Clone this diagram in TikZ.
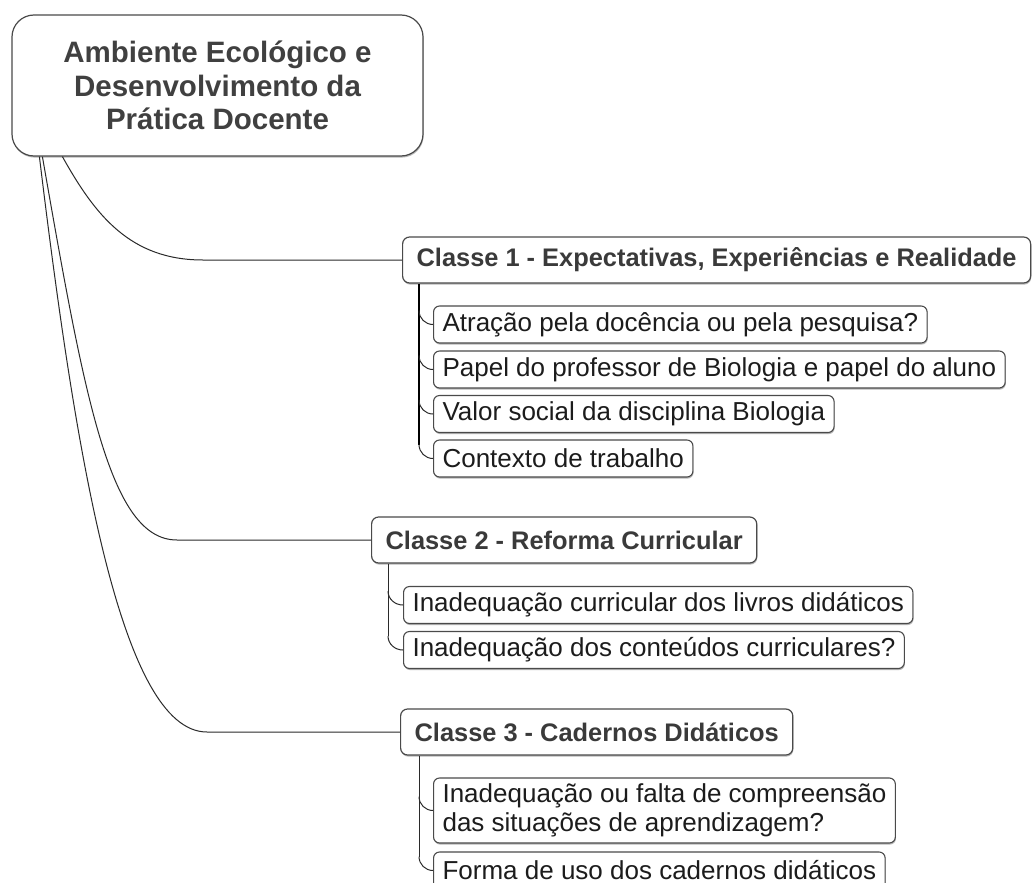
\documentclass[tikz,border=0pt]{standalone}
\usepackage{fontspec}
\setmainfont{Liberation Sans}
\usetikzlibrary{calc,shadows}
\definecolor{titlegray}{HTML}{404040}
\definecolor{clsgray}{HTML}{3A3A3A}
\definecolor{subtext}{HTML}{1C1C1C}
\definecolor{boxline}{HTML}{4A4A4A}
\definecolor{linecol}{HTML}{2A2A2A}
\tikzset{
  x=1pt, y=-1pt,
  boxshadow/.style={drop shadow={shadow xshift=0.6pt, shadow yshift=-1.6pt, fill=black!35, opacity=0.8}},
  rootbox/.style={draw=boxline, line width=1.2pt, fill=white, rounded corners=22pt, align=center,
    font=\fontsize{29.5}{33.5}\selectfont\bfseries, text=titlegray,
    minimum width=411pt, minimum height=141pt, inner sep=0pt, boxshadow},
  clsbox/.style={draw=boxline, line width=1.2pt, fill=white, rounded corners=7pt, anchor=west,
    font=\fontsize{25.4}{29}\selectfont\bfseries, text=clsgray,
    inner xsep=14pt, inner ysep=0pt, minimum height=46pt, boxshadow},
  subbox/.style={draw=boxline, line width=1.1pt, fill=white, rounded corners=6pt, anchor=west,
    font=\fontsize{26}{29}\selectfont, text=subtext, align=left,
    inner xsep=9pt, inner ysep=0pt, minimum height=37pt, boxshadow},
  conn/.style={draw=linecol, line width=1pt},
  trunk/.style={draw=linecol, line width=1pt},
  trunkbold/.style={draw=black, line width=2pt},
}
\begin{document}
\begin{tikzpicture}
\useasboundingbox (0,0) rectangle (1033,883);
\fill[white] (0,0) rectangle (1033,883);
\clip (0,0) rectangle (1033,883);

% root
\node[rootbox] (root) at (217.5,85.5) {Ambiente Ecológico e\\Desenvolvimento da\\Prática Docente};

% classes
\node[clsbox] (c1) at (402,260) {Classe 1 - Expectativas, Experiências e Realidade};
\node[clsbox] (c2) at (371,540) {Classe 2 - Reforma Curricular};
\node[clsbox] (c3) at (400,732) {Classe 3 - Cadernos Didáticos};

% sub-topics class 1
\node[subbox] (a1) at (433,324.5) {Atração pela docência ou pela pesquisa?};
\node[subbox] (a2) at (433,369.5) {Papel do professor de Biologia e papel do aluno};
\node[subbox] (a3) at (433,414) {Valor social da disciplina Biologia};
\node[subbox] (a4) at (433,458.5) {Contexto de trabalho};

% sub-topics class 2
\node[subbox] (b1) at (403,605) {Inadequação curricular dos livros didáticos};
\node[subbox] (b2) at (403,650) {Inadequação dos conteúdos curriculares?};

% sub-topics class 3
\node[subbox, minimum height=65pt] (d1) at (433,810.5) {Inadequação ou falta de compreensão\\das situações de aprendizagem?};
\node[subbox] (d2) at (433,870.5) {Forma de uso dos cadernos didáticos};

% root connectors
\coordinate (s1) at ($(root.south west)+(51,0)$);
\coordinate (s2) at ($(root.south west)+(31,0)$);
\coordinate (s3) at ($(root.south west)+(28,0)$);
\draw[conn] (s1) .. controls (95,215) and (130,260) .. (203,260) -- (c1.west);
\draw[conn] (s2) .. controls (85,400) and (110,540) .. (177,540) -- (c2.west);
\draw[conn] (s3) .. controls (75,450) and (120,732) .. (207,732) -- (c3.west);

% trunks
\coordinate (t1) at ($(c1.south west)+(17,0)$);
\coordinate (t2) at ($(c2.south west)+(17,0)$);
\coordinate (t3) at ($(c3.south west)+(19,0)$);

\draw[trunkbold] (t1) -- ($(t1 |- a4.west)+(0,-14)$);
\foreach \n in {a1,a2,a3,a4}{
  \draw[trunk] ($(t1 |- \n.west)+(0,-14)$) to[out=-90,in=180] (\n.west);
}
\draw[trunk] (t2) -- ($(t2 |- b2.west)+(0,-14)$);
\foreach \n in {b1,b2}{
  \draw[trunk] ($(t2 |- \n.west)+(0,-14)$) to[out=-90,in=180] (\n.west);
}
\draw[trunk] (t3) -- ($(t3 |- d2.west)+(0,-14)$);
\foreach \n in {d1,d2}{
  \draw[trunk] ($(t3 |- \n.west)+(0,-14)$) to[out=-90,in=180] (\n.west);
}
\end{tikzpicture}
\end{document}
